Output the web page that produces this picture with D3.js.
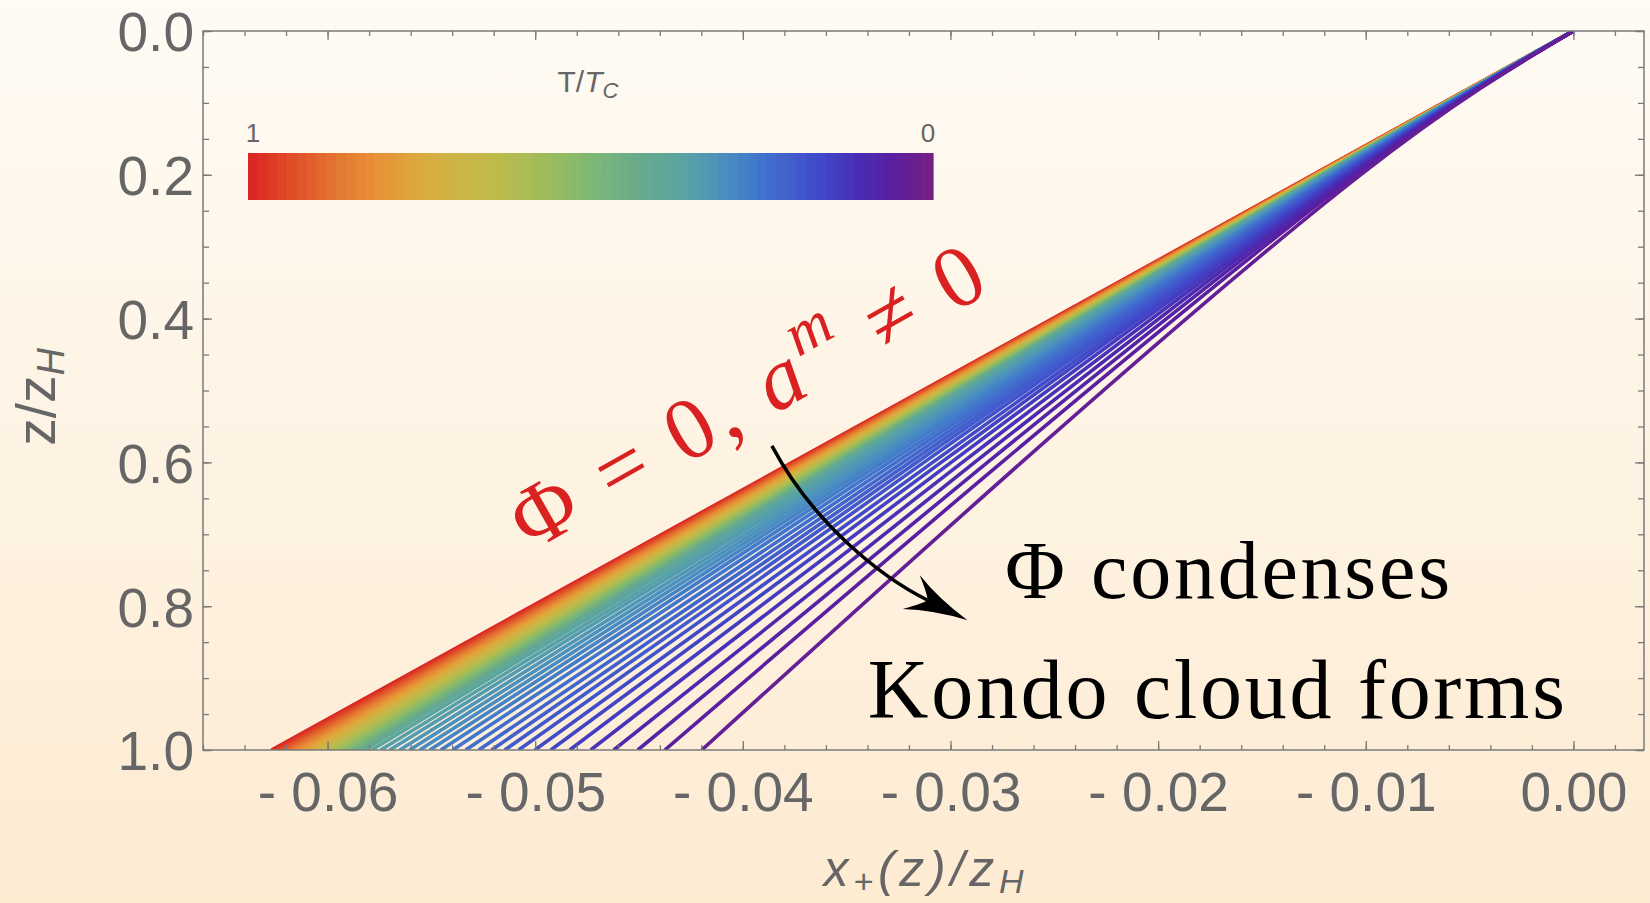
<!DOCTYPE html>
<html><head><meta charset="utf-8">
<script src="https://cdn.jsdelivr.net/npm/d3@7"></script>
<style>html,body{margin:0;padding:0;overflow:hidden;background:#fff}svg{display:block}</style>
</head><body><svg id="chart" width="1650" height="903"></svg>
<script>
// ---------------- data ----------------
const xTicks = [-0.06, -0.05, -0.04, -0.03, -0.02, -0.01, 0.00];
const xTickLabels = ["- 0.06", "- 0.05", "- 0.04", "- 0.03", "- 0.02", "- 0.01", "0.00"];
const yTicks = [0.0, 0.2, 0.4, 0.6, 0.8, 1.0];
const yTickLabels = ["0.0", "0.2", "0.4", "0.6", "0.8", "1.0"];
const xDomain = [-0.066, 0.0034];
const yDomain = [0, 1];

// sampled depths z/zH at which each curve is read (all curves start at x=0, z=0)
const zSamples = [0, 0.2, 0.6, 1.0];
// x+(z)/zH of each curve at z/zH = 0.2
const lineX02 = [-0.01254,-0.01253,-0.01251,-0.01250,-0.01249,-0.01247,-0.01246,-0.01245,-0.01243,-0.01242,
  -0.01241,-0.01239,-0.01238,-0.01237,-0.01235,-0.01234,-0.01233,-0.01231,-0.01230,-0.01229,
  -0.01227,-0.01226,-0.01225,-0.01223,-0.01222,-0.01221,-0.01220,-0.01218,-0.01217,-0.01215,
  -0.01214,-0.01213,-0.01211,-0.01209,-0.01207,-0.01205,
  -0.01201,-0.01196,-0.01191,-0.01186,-0.01181,-0.01175,-0.01170,-0.01164,-0.01158,-0.01151,
  -0.01144,-0.01137,-0.01130,-0.01123,-0.01114,-0.01106,-0.01096,-0.01084,-0.01072,-0.01059,
  -0.01045,-0.01025];
// x+(z)/zH of each curve at z/zH = 0.6
const lineX06 = [-0.03762,-0.03756,-0.03749,-0.03743,-0.03736,-0.03730,-0.03724,-0.03717,-0.03710,-0.03704,
  -0.03698,-0.03691,-0.03685,-0.03678,-0.03672,-0.03666,-0.03659,-0.03653,-0.03646,-0.03640,
  -0.03634,-0.03627,-0.03620,-0.03614,-0.03608,-0.03602,-0.03595,-0.03589,-0.03582,-0.03576,
  -0.03569,-0.03562,-0.03554,-0.03545,-0.03534,-0.03523,
  -0.03505,-0.03482,-0.03459,-0.03433,-0.03408,-0.03382,-0.03356,-0.03328,-0.03297,-0.03264,
  -0.03230,-0.03197,-0.03164,-0.03128,-0.03086,-0.03045,-0.02997,-0.02943,-0.02884,-0.02822,
  -0.02753,-0.02658];
// x+(z)/zH of each curve at z/zH = 1
const lineEndX = [-0.06270,-0.06258,-0.06246,-0.06234,-0.06222,-0.06210,-0.06198,-0.06186,-0.06173,-0.06161,
  -0.06149,-0.06137,-0.06125,-0.06113,-0.06101,-0.06089,-0.06077,-0.06065,-0.06053,-0.06041,
  -0.06029,-0.06016,-0.06004,-0.05992,-0.05981,-0.05969,-0.05957,-0.05945,-0.05933,-0.05920,
  -0.05908,-0.05894,-0.05880,-0.05863,-0.05843,-0.05822,
  -0.05788,-0.05745,-0.05701,-0.05653,-0.05605,-0.05557,-0.05508,-0.05455,-0.05398,-0.05335,
  -0.05272,-0.05210,-0.05147,-0.05080,-0.05002,-0.04925,-0.04834,-0.04733,-0.04622,-0.04506,
  -0.04376,-0.04198];
// T/Tc of each curve
const lineT = [1.000,0.984,0.968,0.952,0.935,0.919,0.903,0.887,0.871,0.855,
  0.839,0.823,0.806,0.790,0.774,0.758,0.742,0.726,0.710,0.694,
  0.677,0.661,0.645,0.629,0.613,0.597,0.581,0.565,0.548,0.532,
  0.516,0.497,0.477,0.455,0.429,0.400,
  0.370,0.355,0.340,0.325,0.310,0.300,0.285,0.270,0.255,0.240,
  0.225,0.210,0.200,0.185,0.170,0.155,0.140,0.120,0.100,0.080,
  0.060,0.040];

// colour function (position 0 = T/Tc 1, position 1 = T/Tc 0)
const colorStopPos = [0, 0.06, 0.134, 0.19, 0.25, 0.305, 0.36, 0.43, 0.5, 0.57, 0.63, 0.69, 0.74, 0.80, 0.84, 0.89, 0.94, 1.0];
const colorStops = ["#dc2323","#df4b28","#e47832","#e99137","#dcaa3c","#cdb446","#bebb4b","#a0bc5a","#7db973",
  "#69aa8c","#5aa5a0","#4b91be","#4178cd","#415acd","#4146c8","#482db4","#5a1ea0","#781e82"];
const colorBarSteps = 70;

// ---------------- setup ----------------
const svg = d3.select("#chart");
const W = 1650, H = 903;
const plot = {left: 203, right: 1644, top: 31, bottom: 750};
const x = d3.scaleLinear().domain(xDomain).range([plot.left, plot.right]);
const y = d3.scaleLinear().domain(yDomain).range([plot.top, plot.bottom]);
const color = d3.scaleLinear().domain(colorStopPos).range(colorStops).interpolate(d3.interpolateRgb);

const defs = svg.append("defs");
const bg = defs.append("linearGradient").attr("id", "bg").attr("x1", 0).attr("y1", 0).attr("x2", 0).attr("y2", 1);
bg.append("stop").attr("offset", "0%").attr("stop-color", "#fffbf4");
bg.append("stop").attr("offset", "100%").attr("stop-color", "#fdebd2");
defs.append("clipPath").attr("id", "clip").append("rect")
  .attr("x", plot.left).attr("y", plot.top).attr("width", plot.right - plot.left).attr("height", plot.bottom - plot.top);

svg.append("rect").attr("width", W).attr("height", H).attr("fill", "url(#bg)");

const SANS = "'Liberation Sans', Arial, Helvetica, sans-serif";
const SERIF = "'Liberation Serif', 'Times New Roman', serif";
const AX = "#7a7a7a", TXT = "#666666";

// ---------------- curves ----------------
const lineGen = d3.line().x(d => x(d[0])).y(d => y(d[1])).curve(d3.curveNatural);
const curves = lineEndX.map((xe, i) => ({
  t: lineT[i],
  pts: [[0, zSamples[0]], [lineX02[i], zSamples[1]], [lineX06[i], zSamples[2]], [xe, zSamples[3]]]
}));
svg.append("g").attr("clip-path", "url(#clip)")
  .selectAll("path").data(curves).join("path")
  .attr("d", d => lineGen(d.pts))
  .attr("fill", "none")
  .attr("stroke", d => color(1 - d.t))
  .attr("stroke-width", 3.6)
  .attr("stroke-linecap", "butt");

// ---------------- axes (frame with inward ticks) ----------------
function styleAxis(g) {
  g.select(".domain").remove();
  g.selectAll(".tick line").attr("stroke", AX).attr("stroke-width", 1.3);
  g.selectAll("text").attr("fill", TXT).attr("font-family", SANS).attr("font-size", 55);
}
const xMinor = x.ticks(35);
const yMinor = y.ticks(20);
svg.append("g").attr("transform", `translate(0,${plot.bottom})`)
  .call(d3.axisBottom(x).tickValues(xMinor).tickSize(-5).tickFormat("")).call(styleAxis);
svg.append("g").attr("transform", `translate(0,${plot.bottom})`)
  .call(d3.axisBottom(x).tickValues(xTicks).tickSize(-9).tickPadding(22)
    .tickFormat((d, i) => xTickLabels[i])).call(styleAxis);
svg.append("g").attr("transform", `translate(0,${plot.top})`)
  .call(d3.axisTop(x).tickValues(xMinor).tickSize(-5).tickFormat("")).call(styleAxis);
svg.append("g").attr("transform", `translate(0,${plot.top})`)
  .call(d3.axisTop(x).tickValues(xTicks).tickSize(-9).tickFormat("")).call(styleAxis);
svg.append("g").attr("transform", `translate(${plot.left},0)`)
  .call(d3.axisLeft(y).tickValues(yMinor).tickSize(-6).tickFormat("")).call(styleAxis);
const yl = svg.append("g").attr("transform", `translate(${plot.left},0)`)
  .call(d3.axisLeft(y).tickValues(yTicks).tickSize(-9).tickPadding(9)
    .tickFormat((d, i) => yTickLabels[i])).call(styleAxis);
yl.selectAll("text").attr("dy", "0.36em");
svg.append("g").attr("transform", `translate(${plot.right},0)`)
  .call(d3.axisRight(y).tickValues(yMinor).tickSize(-6).tickFormat("")).call(styleAxis);
svg.append("g").attr("transform", `translate(${plot.right},0)`)
  .call(d3.axisRight(y).tickValues(yTicks).tickSize(-9).tickFormat("")).call(styleAxis);
svg.append("rect").attr("x", plot.left).attr("y", plot.top)
  .attr("width", plot.right - plot.left).attr("height", plot.bottom - plot.top)
  .attr("fill", "none").attr("stroke", AX).attr("stroke-width", 1.5);

// axis titles
const xt = svg.append("text").attr("x", (plot.left + plot.right) / 2).attr("y", 886)
  .attr("text-anchor", "middle").attr("font-family", SANS).attr("font-size", 50)
  .attr("font-style", "italic").attr("fill", TXT).attr("textLength", 200).attr("lengthAdjust", "spacing");
xt.append("tspan").text("x");
xt.append("tspan").attr("font-size", 34).attr("dy", 7).text("+");
xt.append("tspan").attr("dy", -7).text("(z)/z");
xt.append("tspan").attr("font-size", 34).attr("dy", 7).text("H");

const yt = svg.append("text").attr("transform", `translate(55,397) rotate(-90)`)
  .attr("text-anchor", "middle").attr("font-family", SANS).attr("font-size", 55).attr("fill", TXT);
yt.append("tspan").text("z/z");
yt.append("tspan").attr("font-size", 38).attr("dy", 9).attr("font-style", "italic").text("H");

// ---------------- colour bar legend ----------------
const cb = {x0: 248, x1: 933, y0: 153, y1: 200};
const cbScale = d3.scaleLinear().domain([0, colorBarSteps]).range([cb.x0, cb.x1]);
svg.append("g").selectAll("rect").data(d3.range(colorBarSteps)).join("rect")
  .attr("x", k => cbScale(k)).attr("y", cb.y0)
  .attr("width", k => cbScale(k + 1) - cbScale(k) + 0.6).attr("height", cb.y1 - cb.y0)
  .attr("fill", k => color((k + 0.5) / colorBarSteps));
svg.append("text").attr("x", cbScale(0.5)).attr("y", 142).attr("text-anchor", "middle")
  .attr("font-family", SANS).attr("font-size", 26).attr("fill", TXT).text("1");
svg.append("text").attr("x", cbScale(colorBarSteps - 0.5)).attr("y", 142).attr("text-anchor", "middle")
  .attr("font-family", SANS).attr("font-size", 26).attr("fill", TXT).text("0");
const ct = svg.append("text").attr("x", 588).attr("y", 92).attr("text-anchor", "middle")
  .attr("font-family", SANS).attr("font-size", 30).attr("fill", TXT);
ct.append("tspan").text("T/");
ct.append("tspan").attr("font-style", "italic").text("T");
ct.append("tspan").attr("font-style", "italic").attr("font-size", 22).attr("dy", 6).text("C");

// ---------------- annotations ----------------
const rl = {x: -0.03913, z: 0.5438};
const rt = svg.append("text")
  .attr("transform", `translate(${x(rl.x)},${y(rl.z)}) rotate(-29.5)`)
  .attr("text-anchor", "middle").attr("font-family", SERIF).attr("font-size", 88)
  .attr("fill", "#d92121").attr("textLength", 530).attr("lengthAdjust", "spacing");
rt.append("tspan").text("Φ = 0, ");
rt.append("tspan").attr("font-style", "italic").text("a");
rt.append("tspan").attr("font-style", "italic").attr("font-size", 62).attr("dy", -38).text("m");
rt.append("tspan").attr("dy", 38).text(" ≠ 0");

svg.append("text").attr("x", x(-0.02737)).attr("y", y(0.7886))
  .attr("font-family", SERIF).attr("font-size", 82).attr("fill", "#000")
  .attr("textLength", 445).attr("lengthAdjust", "spacing").text("Φ condenses");
svg.append("text").attr("x", x(-0.03398)).attr("y", y(0.955))
  .attr("font-family", SERIF).attr("font-size", 84).attr("fill", "#000")
  .attr("textLength", 697).attr("lengthAdjust", "spacing").text("Kondo cloud forms");

// curved arrow
const arrowStart = {x: -0.0386, z: 0.577};
const arrowNotch = {x: -0.03112, z: 0.7914};
const p0 = [x(arrowStart.x), y(arrowStart.z)];
const p3 = [x(arrowNotch.x), y(arrowNotch.z)];
const u0 = [0.47, 0.88], u1 = [0.894, 0.447];
const p1 = [p0[0] + 90 * u0[0], p0[1] + 90 * u0[1]];
const p2 = [p3[0] - 50 * u1[0], p3[1] - 50 * u1[1]];
const ap = d3.path();
ap.moveTo(p0[0], p0[1]);
ap.bezierCurveTo(p1[0], p1[1], p2[0], p2[1], p3[0], p3[1]);
svg.append("path").attr("d", ap.toString()).attr("fill", "none").attr("stroke", "#000").attr("stroke-width", 3.5);
const n1 = [-u1[1], u1[0]];
const tip = [p3[0] + 45 * u1[0], p3[1] + 45 * u1[1]];
const L = 63, Wd = 19;
const b1 = [tip[0] - L * u1[0] + Wd * n1[0], tip[1] - L * u1[1] + Wd * n1[1]];
const b2 = [tip[0] - L * u1[0] - Wd * n1[0], tip[1] - L * u1[1] - Wd * n1[1]];
const hp = d3.path();
hp.moveTo(tip[0], tip[1]);
hp.quadraticCurveTo(tip[0] - 35 * u1[0] + 6 * n1[0], tip[1] - 35 * u1[1] + 6 * n1[1], b1[0], b1[1]);
hp.quadraticCurveTo(p3[0] + 3 * n1[0], p3[1] + 3 * n1[1], p3[0], p3[1]);
hp.quadraticCurveTo(p3[0] - 3 * n1[0], p3[1] - 3 * n1[1], b2[0], b2[1]);
hp.quadraticCurveTo(tip[0] - 35 * u1[0] - 6 * n1[0], tip[1] - 35 * u1[1] - 6 * n1[1], tip[0], tip[1]);
hp.closePath();
svg.append("path").attr("d", hp.toString()).attr("fill", "#000");
</script>
</body></html>
